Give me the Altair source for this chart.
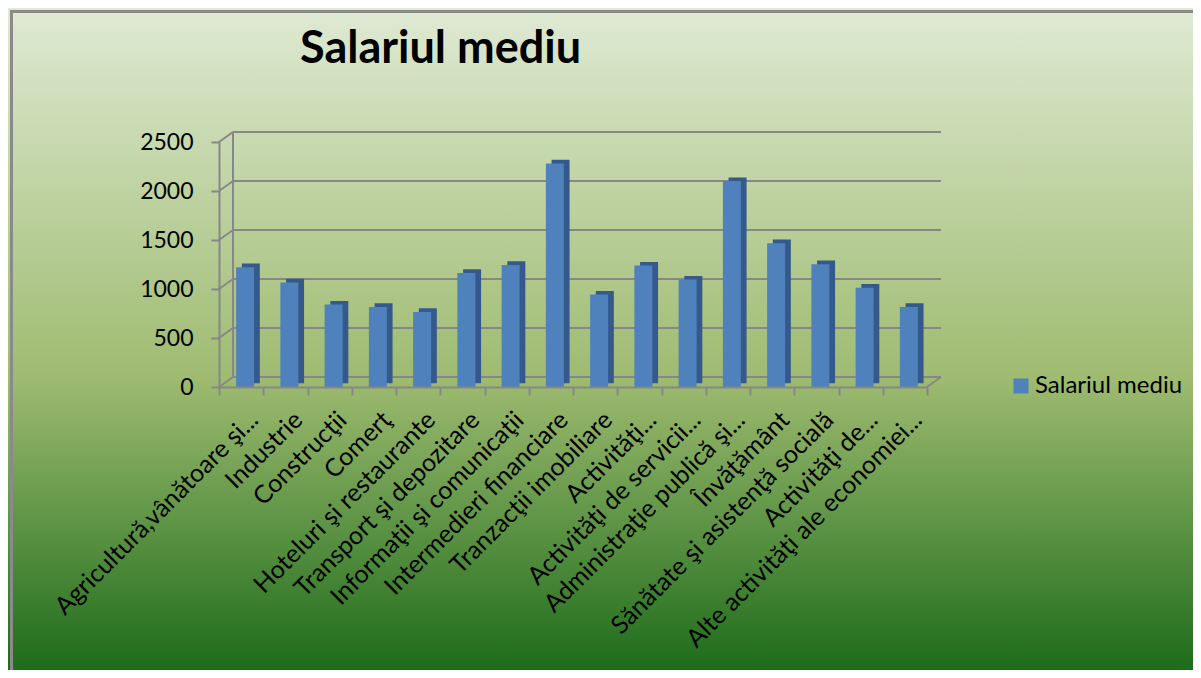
import altair as alt
import pandas as pd

categories = [
    "Agricultură,vânătoare şi...",
    "Industrie",
    "Construcţii",
    "Comerţ",
    "Hoteluri şi restaurante",
    "Transport şi depozitare",
    "Informaţii şi comunicaţii",
    "Intermedieri financiare",
    "Tranzacţii imobiliare",
    "Activităţi...",
    "Activităţi de servicii...",
    "Administraţie publică şi...",
    "Învăţământ",
    "Sănătate şi asistenţă socială",
    "Activităţi de...",
    "Alte activităţi ale economiei...",
]
values = [1222, 1066, 841, 817, 766, 1164, 1246, 2281, 943, 1239, 1096, 2101, 1468, 1253, 1014, 817]
series_name = "Salariul mediu"
title_text = "Salariul mediu"
y_ticks = [0, 500, 1000, 1500, 2000, 2500]

W, H = 708, 245
PAD_L, PAD_T = 211, 134
TOTAL_W, TOTAL_H = 1185, 662
DX, DY = 14, -10  # 3D depth offset of back wall
GRID = "#878787"
FONT = "Lato"

bars = pd.DataFrame({"cat": categories, "value": values, "series": [series_name] * len(values)})
ticks = pd.DataFrame({"v": y_ticks})
one = pd.DataFrame({"a": [0]})
ends = pd.DataFrame({"lo": [min(y_ticks)], "hi": [max(y_ticks)]})
title_df = pd.DataFrame({"t": [title_text]})

yscale = alt.Scale(domain=[0, 2500], nice=False, zero=True)
xscale = alt.Scale(domain=categories, paddingInner=0, paddingOuter=0)

y_axis = alt.Axis(values=y_ticks, format="d", grid=False, title=None, tickSize=8, labelPadding=18,
                  labelFontSize=23, labelFont=FONT, labelColor="black", zindex=2,
                  domainColor=GRID, domainWidth=2, tickColor=GRID, tickWidth=2)
x_axis = alt.Axis(title=None, labelAngle=-45, labelFontSize=25, labelFont=FONT, labelLimit=0,
                  labelColor="black", tickBand="extent", tickSize=8, labelPadding=12, zindex=2,
                  labelOffset=4, domainColor=GRID, domainWidth=2, tickColor=GRID, tickWidth=2)

gradient = alt.LinearGradient(
    gradient="linear", x1=0, y1=0, x2=0, y2=1,
    stops=[alt.GradientStop(offset=0, color="#dfead3"),
           alt.GradientStop(offset=0.56, color="#9ebb70"),
           alt.GradientStop(offset=1, color="#1d6c1a")],
)

background = alt.Chart(one).mark_rect(color=gradient).encode(
    x=alt.value(-PAD_L), x2=alt.value(TOTAL_W - PAD_L),
    y=alt.value(-PAD_T), y2=alt.value(TOTAL_H - PAD_T),
)
border = alt.Chart(one).mark_rect(fill="transparent", stroke="#8a8a8a", strokeWidth=3).encode(
    x=alt.value(-PAD_L + 3.5), x2=alt.value(TOTAL_W + 50),
    y=alt.value(-PAD_T + 3.5), y2=alt.value(TOTAL_H + 50),
)
title_mark = alt.Chart(title_df).mark_text(
    align="left", baseline="alphabetic", fontSize=45, font=FONT, fontWeight="bold", color="black"
).encode(text="t:N", x=alt.value(81), y=alt.value(-79))

back_grid = alt.Chart(ticks).mark_rule(color=GRID, strokeWidth=2, yOffset=DY).encode(
    y=alt.Y("v:Q", scale=yscale, axis=y_axis), x=alt.value(DX), x2=alt.value(W + DX),
)
side_diag = alt.Chart(ticks).mark_rule(color=GRID, strokeWidth=2, y2Offset=DY).encode(
    y=alt.Y("v:Q", scale=yscale, axis=y_axis), y2="v:Q", x=alt.value(0), x2=alt.value(DX),
)
left_wall = alt.Chart(ends).mark_rule(color=GRID, strokeWidth=2, yOffset=DY, y2Offset=DY).encode(
    y=alt.Y("lo:Q", scale=yscale, axis=y_axis), y2="hi:Q", x=alt.value(DX),
)
floor_diag = alt.Chart(ends).mark_rule(color=GRID, strokeWidth=2, y2Offset=DY).encode(
    y=alt.Y("lo:Q", scale=yscale, axis=y_axis), y2="lo:Q", x=alt.value(W), x2=alt.value(W + DX),
)

bar_dark = alt.Chart(bars).mark_bar(
    color="#34598a", width=18, xOffset=9.7, x2Offset=9.7, yOffset=-3.7, y2Offset=-3.7
).encode(
    x=alt.X("cat:N", scale=xscale, sort=categories, axis=x_axis),
    y=alt.Y("value:Q", scale=yscale, axis=y_axis),
)
bar_front = alt.Chart(bars).mark_bar(width=18, xOffset=4, x2Offset=4).encode(
    x=alt.X("cat:N", scale=xscale, sort=categories, axis=x_axis),
    y=alt.Y("value:Q", scale=yscale, axis=y_axis),
    color=alt.Color("series:N", scale=alt.Scale(range=["#4f81bd"]),
                    legend=alt.Legend(title=None, orient="none", legendX=790, legendY=232,
                                      symbolType="square", symbolSize=225, symbolStrokeWidth=0,
                                      labelFontSize=24, labelFont=FONT, labelColor="black",
                                      labelOffset=2, zindex=2)),
)

chart = alt.layer(
    background, border, title_mark, back_grid, side_diag, left_wall, floor_diag, bar_dark, bar_front
).properties(
    width=W, height=H,
    padding={"left": PAD_L, "top": PAD_T, "right": TOTAL_W - PAD_L - W, "bottom": TOTAL_H - PAD_T - H},
    autosize=alt.AutoSizeParams(type="none"),
).configure_view(stroke=None).configure(background="white")

chart.save("out.html", embed_options={"renderer": "svg", "actions": False})
